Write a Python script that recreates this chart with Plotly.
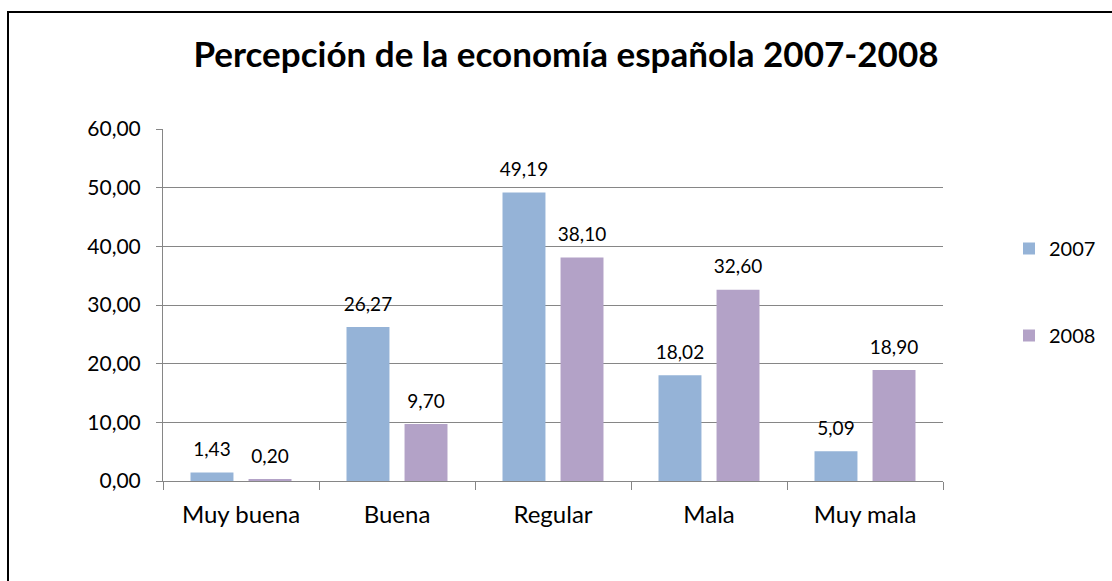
import plotly.graph_objects as go

categories = ["Muy buena", "Buena", "Regular", "Mala", "Muy mala"]
values_2007 = [1.43, 26.27, 49.19, 18.02, 5.09]
values_2008 = [0.20, 9.70, 38.10, 32.60, 18.90]
series_names = ["2007", "2008"]
colors = ["#95B3D7", "#B3A2C7"]
y_ticks = [0, 10, 20, 30, 40, 50, 60]

W, H = 1112, 581
L, R, T, B = 163, 943, 129, 481
FONT = "Lato"
GAP = 0.256

fig = go.Figure()
for name, vals, col, grp in zip(series_names, [values_2007, values_2008], colors, ["a", "b"]):
    fig.add_trace(go.Bar(
        x=categories, y=vals, name=name, marker=dict(color=col, line=dict(width=0)),
        legendgroup=grp, offsetgroup=grp, hoverinfo="skip",
    ))
for name, vals, grp in zip(series_names, [values_2007, values_2008], ["a", "b"]):
    fig.add_trace(go.Scatter(
        x=categories, y=vals, mode="markers+text", offsetgroup=grp, showlegend=False,
        marker=dict(size=17, color="rgba(0,0,0,0)"),
        texttemplate="%{y:.2f}", textposition="top center", cliponaxis=False,
        textfont=dict(family=FONT, size=19, color="#000000"), hoverinfo="skip",
    ))

fig.update_layout(
    width=W, height=H, autosize=False,
    margin=dict(l=L, r=W - R, t=T, b=H - B, pad=0, autoexpand=False),
    paper_bgcolor="white", plot_bgcolor="white",
    separators=",.",
    barmode="group", bargap=GAP, bargroupgap=0.26,
    scattermode="group", scattergap=GAP,
    title=dict(text="<b>Percepción de la economía española 2007-2008</b>",
               x=(566 - L) / (R - L), xref="paper", xanchor="center", y=1 - 55 / H, yanchor="middle",
               font=dict(family=FONT, size=35, color="#000000")),
    font=dict(family=FONT, color="#000000"),
    showlegend=True,
    legend=dict(x=(1009 - L) / (R - L), xanchor="left", y=(B - 292) / (B - T), yanchor="middle",
                font=dict(family=FONT, size=20, color="#000000"),
                tracegroupgap=58, traceorder="grouped", itemwidth=30, bgcolor="rgba(0,0,0,0)"),
    xaxis=dict(showline=True, linecolor="#868686", linewidth=1, ticks="outside", tickson="boundaries",
               ticklen=8, tickcolor="#868686", tickfont=dict(family=FONT, size=24), showgrid=False,
               automargin=False, ticklabelstandoff=12),
    yaxis=dict(range=[0, 60], tickvals=y_ticks, tickformat=".2f", showline=True, linecolor="#868686",
               linewidth=1, ticks="outside", ticklen=6, tickcolor="#868686", showgrid=True,
               gridcolor="#868686", gridwidth=1, zeroline=False, tickfont=dict(family=FONT, size=21),
               automargin=False, ticklabelstandoff=11),
    shapes=[dict(type="rect", xref="paper", yref="paper",
                 x0=(8 - L) / (R - L), x1=(1130 - L) / (R - L),
                 y0=(B - 600) / (B - T), y1=(B - 12) / (B - T),
                 line=dict(color="#000000", width=2), fillcolor="rgba(0,0,0,0)", layer="below")],
)

fig.write_html("out.html", config={"responsive": False, "displayModeBar": False},
               post_script="document.body.style.margin='0';document.body.style.overflow='hidden';")
